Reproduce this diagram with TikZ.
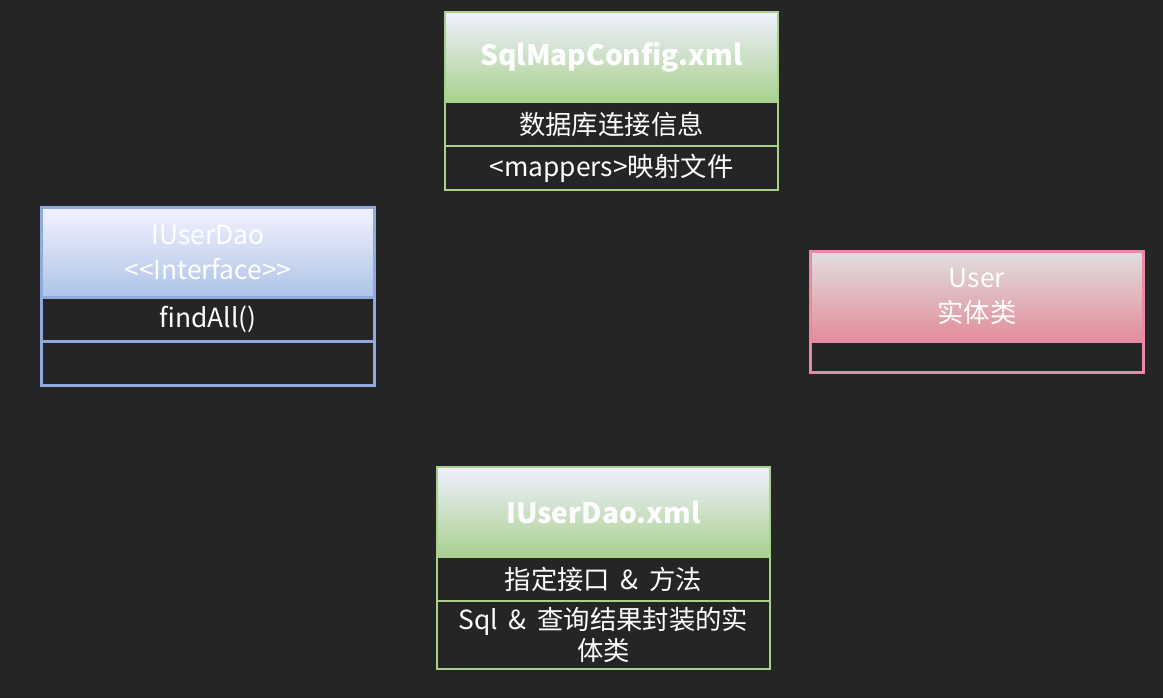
\documentclass[tikz,border=0pt]{standalone}
\usepackage{fontspec}
\setmainfont{Noto Sans CJK SC}
\usetikzlibrary{positioning}
\definecolor{bgdark}{HTML}{252525}
\definecolor{xmlgreen}{HTML}{A9D18E}
\definecolor{daoblue}{HTML}{8FAADC}
\definecolor{daofill}{HTML}{ADC3E6}
\definecolor{userpink}{HTML}{E88AA6}
\definecolor{userfill}{HTML}{E38C99}
\tikzstyle{head}=[rectangle,minimum width=6.66cm,minimum height=1.8cm,
text centered,align=center,text=white,outer sep=0pt,line width=1.2pt,font=\fontsize{15}{20}\selectfont]
\tikzstyle{greenhead}=[head,draw=xmlgreen,top color=white!94!blue,bottom color=xmlgreen,font=\fontsize{16}{20}\selectfont\bfseries]
\tikzstyle{bluehead}=[head,draw=daoblue,top color=white!95!blue,bottom color=daofill]
\tikzstyle{pinkhead}=[head,draw=userpink,top color=gray!25,bottom color=userfill]
\tikzstyle{row}=[rectangle,minimum width=6.66cm,minimum height=0.88cm,
text centered,align=center,text=white,outer sep=0pt,line width=1.2pt,fill=bgdark,font=\fontsize{15}{18}\selectfont]

\begin{document}
\begin{tikzpicture}
    \fill[bgdark] (0,0) rectangle (23.26,-13.96);
    \useasboundingbox (0,0) rectangle (23.26,-13.96);

        % SqlMapConfig.xml
        \node (cfg) [greenhead] at (12.23,-1.14) {SqlMapConfig.xml};
        \node (cfg1) [row,draw=xmlgreen,below=0pt of cfg] {数据库连接信息};
        \node (cfg2) [row,draw=xmlgreen,below=0pt of cfg1] {<mappers>映射文件};

        % IUserDao
        \node (dao) [bluehead] at (4.16,-5.05) {IUserDao\\<{}<Interface>{}>};
        \node (dao1) [row,draw=daoblue,below=0pt of dao] {findAll()};
        \node (dao2) [row,draw=daoblue,below=0pt of dao1] {};

        % User
        \node (user) [pinkhead] at (19.54,-5.93) {User\\实体类};
        \node (user1) [row,draw=userpink,minimum height=0.62cm,below=0pt of user] {};

        % IUserDao.xml
        \node (map) [greenhead] at (12.07,-10.24) {IUserDao.xml};
        \node (map1) [row,draw=xmlgreen,below=0pt of map] {指定接口\hspace{0.4em}\&\hspace{0.4em}方法};
        \node (map2) [row,draw=xmlgreen,minimum height=1.26cm,below=0pt of map1] {Sql\hspace{0.4em}\&\hspace{0.4em}查询结果封装的实\\体类};

    \end{tikzpicture}
\end{document}
